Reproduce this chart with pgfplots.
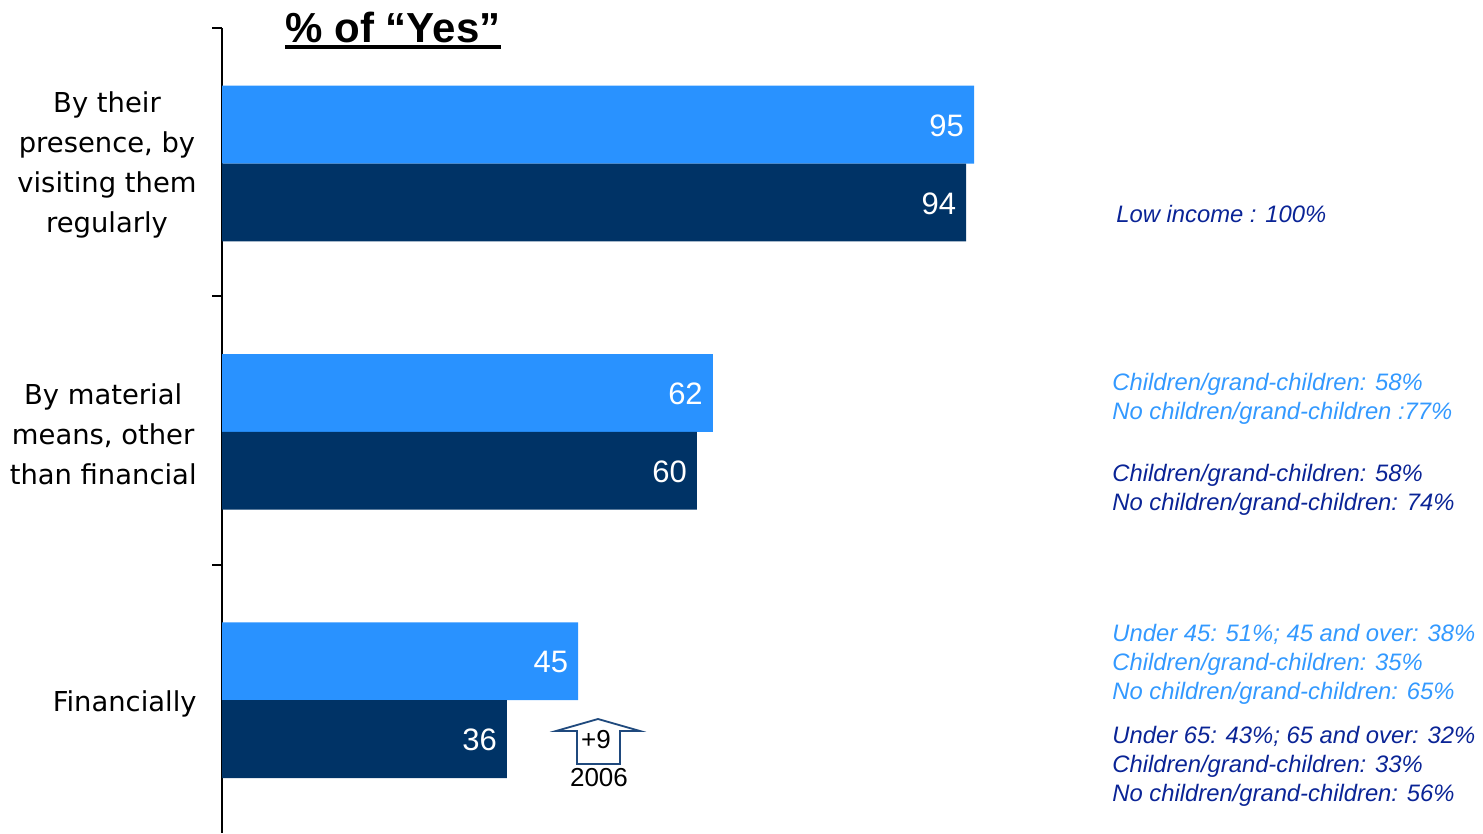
\documentclass[border=0pt]{standalone}
\usepackage{pgfplots}
\pgfplotsset{compat=1.18}
\usepackage{fontspec}
\setmainfont{Liberation Sans}
\newfontfamily\catfont{DejaVu Sans}
\definecolor{lightbar}{RGB}{41,146,255}
\definecolor{darkbar}{RGB}{0,51,102}
\definecolor{lighttxt}{RGB}{51,153,255}
\definecolor{darktxt}{RGB}{10,36,150}
\definecolor{arrowcol}{RGB}{31,73,125}
\begin{document}
\begin{tikzpicture}
\begin{scope}[x=0.5pt,y=-0.5pt]
\path[use as bounding box] (0,0) rectangle (1483,833);
\end{scope}
\begin{axis}[
  at={(111pt,-416.5pt)}, anchor=south west,
  scale only axis, width=395.8pt, height=402.5pt,
  xmin=0, xmax=100, ymin=-0.5, ymax=2.5, y dir=reverse,
  axis x line=none, axis y line*=left,
  axis line style={line width=1pt, black},
  ytick={-0.5,0.5,1.5}, yticklabels={},
  tick align=outside, major tick length=5pt,
  y tick style={line width=1pt, black},
  xbar, bar width=0.29,
  clip=false,
  /pgf/number format/assume math mode=true,
  nodes near coords,
  every node near coord/.append style={anchor=east, xshift=-1.5pt, yshift=-0.6pt, text=white, font=\fontsize{15.5}{18}\selectfont},
]
\addplot[fill=lightbar, draw=none, bar shift=-0.14] coordinates {(95,0) (62,1) (45,2)};
\addplot[fill=darkbar, draw=none, bar shift=0.15] coordinates {(94,0) (60,1) (36,2)};
\end{axis}
\begin{scope}[x=0.5pt,y=-0.5pt]
% title
\node[inner sep=0, font=\bfseries\fontsize{21}{24}\selectfont] (t) at (393,27) {\% of “Yes”};
\draw[line width=2pt] ([yshift=-2.6pt]t.base west) -- ([yshift=-2.6pt]t.base east);
% category labels
\node[anchor=east, align=center, inner sep=0, font=\catfont\fontsize{13.7}{20}\selectfont] at (197,165) {By their\\presence, by\\visiting them\\regularly};
\node[anchor=east, align=center, inner sep=0, font=\catfont\fontsize{13.7}{20}\selectfont] at (197,434) {By material\\means, other\\than financial};
\node[anchor=east, align=center, inner sep=0, font=\catfont\fontsize{13.7}{20}\selectfont] at (197,704) {Financially};
% annotations
\begin{scope}[every node/.style={anchor=west, inner sep=0, font=\itshape\fontsize{11.9}{14.5}\selectfont}]
\node[text=darktxt] at (1116,214) {Low income : 100\%};
\node[text=lighttxt, align=left] at (1112,399) {Children/grand-children: 58\%\\No children/grand-children :77\%};
\node[text=darktxt, align=left] at (1112,490) {Children/grand-children: 58\%\\No children/grand-children: 74\%};
\node[text=lighttxt, align=left] at (1112,664) {Under 45: 51\%; 45 and over: 38\%\\Children/grand-children: 35\%\\No children/grand-children: 65\%};
\node[text=darktxt, align=left] at (1112,766) {Under 65: 43\%; 65 and over: 32\%\\Children/grand-children: 33\%\\No children/grand-children: 56\%};
\end{scope}
% arrow
\draw[arrowcol, line width=0.9pt, fill=white] (556,731) -- (598,719) -- (640,731) -- (620,731) -- (620,764) -- (577,764) -- (577,731) -- cycle;
\node[font=\fontsize{13}{15}\selectfont, inner sep=0] at (596,740) {+9};
\node[font=\fontsize{13}{15}\selectfont, inner sep=0] at (599,778) {2006};
\end{scope}
\end{tikzpicture}
\end{document}
